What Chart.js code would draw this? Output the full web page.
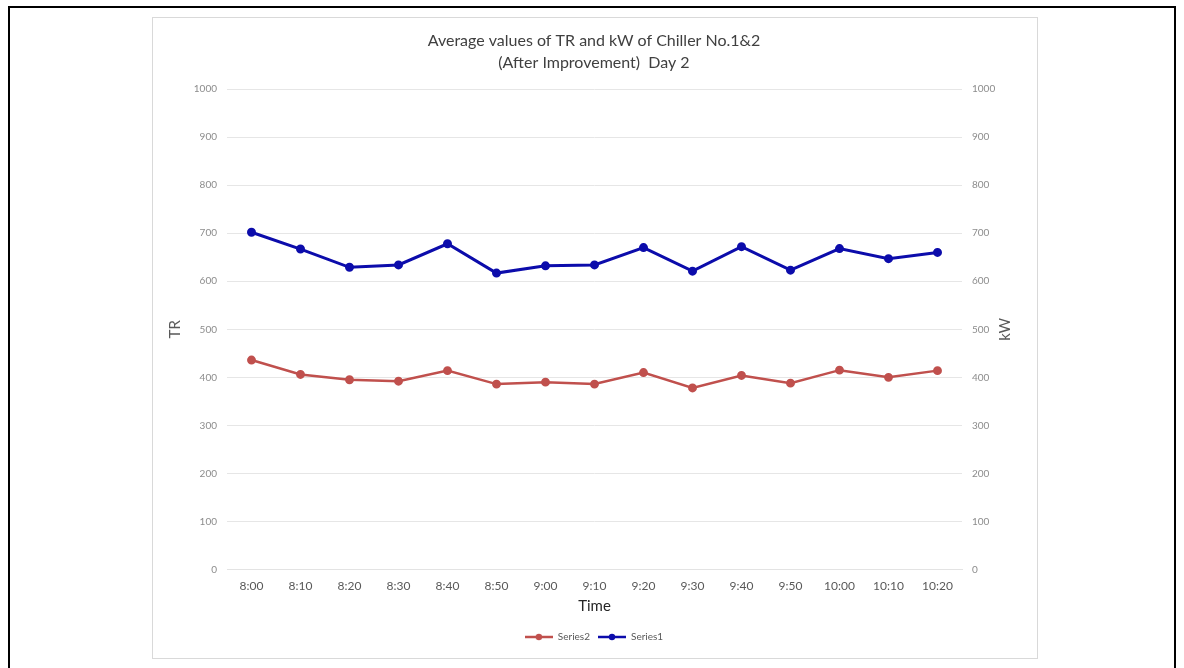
<!DOCTYPE html>
<html>
<head>
<meta charset="utf-8">
<script src="https://cdn.jsdelivr.net/npm/chart.js@4/dist/chart.umd.min.js"></script>
<style>
  html, body { margin: 0; padding: 0; background: #fff; }
  #page { position: relative; width: 1184px; height: 668px; overflow: hidden; }
  #frame { position: absolute; left: 8px; top: 6px; width: 1168px; height: 680px; border: 2px solid #000; box-sizing: border-box; }
  #box { position: absolute; left: 152px; top: 17px; width: 886px; height: 642px; border: 1px solid #d9d9d9; box-sizing: border-box; }
  #holder { position: absolute; left: 0; top: 0; width: 1184px; height: 668px; }
</style>
</head>
<body>
<div id="page">
  <div id="frame"></div>
  <div id="box"></div>
  <div id="holder"><canvas id="chiller"></canvas></div>
</div>
<script>
const times = ['8:00', '8:10', '8:20', '8:30', '8:40', '8:50', '9:00', '9:10', '9:20', '9:30', '9:40', '9:50', '10:00', '10:10', '10:20'];
const series1 = [702, 667, 629, 634, 678, 617, 632, 634, 670, 621, 672, 623, 668, 647, 660];
const series2 = [436, 406, 395, 392, 414, 386, 390, 386, 410, 378, 404, 388, 415, 400, 414];
const titleLines = ['Average values of TR and kW of Chiller No.1&2', '(After Improvement)  Day 2'];

const FONT = 'Lato, "Open Sans", sans-serif';
const RED = '#c0504d';
const BLUE = '#0c0cab';

// little line-with-dot marker for the legend entries
const legendMark = (color) => {
  const c = document.createElement('canvas');
  c.width = 28; c.height = 10;
  const g = c.getContext('2d');
  g.strokeStyle = color;
  g.lineWidth = 2.5;
  g.beginPath(); g.moveTo(0, 5); g.lineTo(28, 5); g.stroke();
  g.fillStyle = color;
  g.beginPath(); g.arc(14, 5, 3.2, 0, Math.PI * 2); g.fill();
  return c;
};

// secondary axis title, written bottom-to-top like the primary one
const kwTitle = {
  id: 'kwTitle',
  afterDraw(chart) {
    const s = chart.scales.y1;
    const g = chart.ctx;
    g.save();
    g.translate(s.right - 17, (s.top + s.bottom) / 2);
    g.rotate(-Math.PI / 2);
    g.fillStyle = '#595959';
    g.font = '15px ' + FONT;
    g.textAlign = 'center';
    g.textBaseline = 'middle';
    g.fillText('kW', 0, 0);
    g.restore();
  }
};

const ctx = document.getElementById('chiller').getContext('2d');
const chart = new Chart(ctx, {
  type: 'line',
  data: {
    labels: times,
    datasets: [{
      label: 'Series2',
      data: series2,
      yAxisID: 'y1',
      borderColor: RED,
      backgroundColor: RED,
      borderWidth: 2.5,
      pointRadius: 3.2,
      pointBackgroundColor: RED,
      pointBorderColor: RED,
      tension: 0
    }, {
      label: 'Series1',
      data: series1,
      yAxisID: 'y',
      borderColor: BLUE,
      backgroundColor: BLUE,
      borderWidth: 3,
      pointRadius: 3,
      pointBackgroundColor: BLUE,
      pointBorderColor: BLUE,
      tension: 0
    }]
  },
  options: {
    responsive: true,
    maintainAspectRatio: false,
    animation: false,
    layout: { padding: { left: 166, right: 162, top: 18, bottom: 16 } },
    plugins: {
      title: {
        display: true,
        text: titleLines,
        color: '#404040',
        font: { family: FONT, size: 16, weight: 'normal', lineHeight: 1.375 },
        padding: { top: 12, bottom: 15 }
      },
      legend: {
        position: 'bottom',
        labels: {
          color: '#595959',
          font: { family: FONT, size: 10 },
          usePointStyle: true,
          pointStyleWidth: 28,
          boxHeight: 10,
          padding: 8,
          generateLabels: (c) => c.data.datasets.map((ds, i) => ({
            text: ds.label,
            fillStyle: ds.borderColor,
            strokeStyle: ds.borderColor,
            pointStyle: legendMark(ds.borderColor),
            fontColor: '#595959',
            datasetIndex: i,
            hidden: false
          }))
        }
      },
      tooltip: { enabled: false }
    },
    scales: {
      x: {
        offset: true,
        grid: { display: false, drawTicks: false },
        border: { color: '#e3e3e3' },
        ticks: { color: '#595959', font: { family: FONT, size: 12 }, padding: 9, maxRotation: 0 },
        title: { display: true, text: 'Time', color: '#262626', font: { family: FONT, size: 15, lineHeight: 1 }, padding: { top: -3, bottom: 10 } }
      },
      y: {
        position: 'left',
        min: 0, max: 1000,
        grid: { color: '#e6e6e6', drawTicks: false },
        border: { display: false },
        ticks: { stepSize: 100, color: '#8c8c8c', font: { family: FONT, size: 10 }, padding: 10, callback: (v) => String(v) },
        title: { display: true, text: 'TR', color: '#595959', font: { family: FONT, size: 15 }, padding: 0 },
        afterFit: (s) => { s.width = 61; }
      },
      y1: {
        position: 'right',
        min: 0, max: 1000,
        grid: { drawOnChartArea: false, drawTicks: false },
        border: { display: false },
        ticks: { stepSize: 100, color: '#8c8c8c', font: { family: FONT, size: 10 }, padding: 10, callback: (v) => String(v) },
        afterFit: (s) => { s.width = 60; }
      }
    }
  },
  plugins: [kwTitle]
});
</script>
</body>
</html>
